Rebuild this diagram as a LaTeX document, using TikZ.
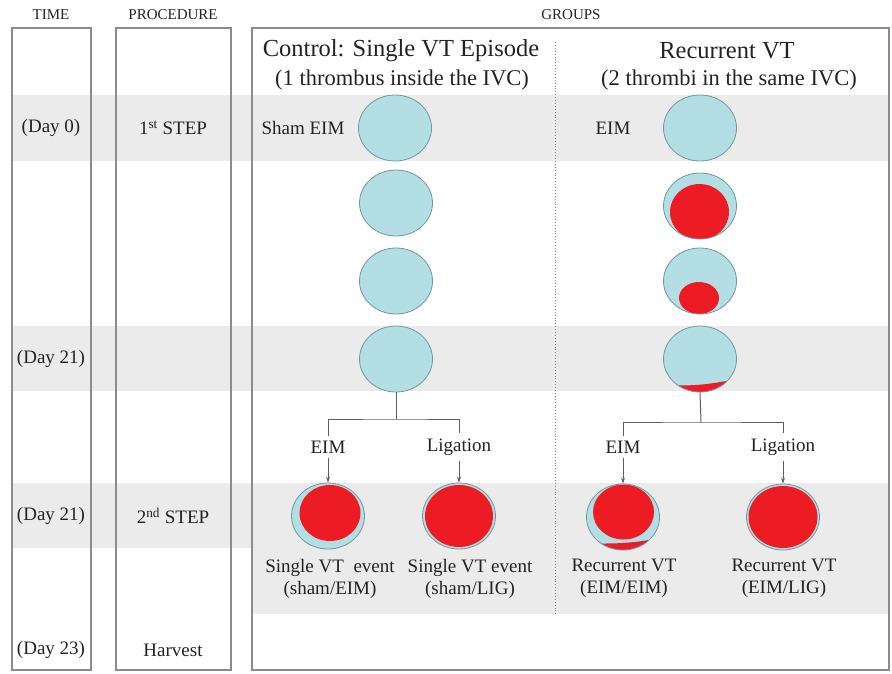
\documentclass[tikz,border=0pt]{standalone}
\usepackage{fontspec}
\setmainfont{Liberation Serif}
\usetikzlibrary{shapes.geometric,arrows.meta}
\definecolor{bandgrey}{RGB}{235,235,235}
\definecolor{boxline}{RGB}{140,140,140}
\definecolor{ivc}{RGB}{178,222,228}
\definecolor{ivcline}{RGB}{115,150,158}
\definecolor{clot}{RGB}{237,28,36}
\definecolor{txt}{RGB}{35,35,35}
\definecolor{connc}{RGB}{95,95,95}
\begin{document}
\begin{tikzpicture}[x=1pt,y=-1pt,
  hdr/.style={font=\fontsize{15}{17}\selectfont, text=txt, inner sep=1pt},
  lbl/.style={font=\fontsize{19}{22}\selectfont, text=txt, inner sep=1pt},
  captext/.style={lbl, align=center},
  branch/.style={lbl, inner sep=5pt},
  ttl/.style={font=\fontsize{24.5}{27}\selectfont, text=txt, inner sep=1pt},
  subttl/.style={font=\fontsize{22.5}{25}\selectfont, text=txt, inner sep=1pt},
  col/.style={draw=boxline, line width=1.4pt},
  vessel/.style={ellipse, draw=ivcline, fill=ivc, line width=0.8pt,
    minimum width=73pt, minimum height=66pt, inner sep=0pt},
  redin/.style n args={4}{path picture={\fill[clot]
    ([shift={(#1,#2)}]path picture bounding box.center)
    ellipse [x radius=#3pt, y radius=#4pt];}},
  conn/.style={draw=connc, line width=1pt},
  arr/.style={conn, -{Stealth[length=6pt,width=4pt]}},
]
\useasboundingbox (0,0) rectangle (892,673);
% bands
\fill[bandgrey] (12,95) rectangle (890,161);
\fill[bandgrey] (12,326) rectangle (890,391);
\fill[bandgrey] (12,483) rectangle (890,548);
\fill[bandgrey] (252,548) rectangle (890,614);
% columns
\draw[col] (12,28) rectangle (91,670);
\draw[col] (116,28) rectangle (231,670);
\draw[col] (252,28) rectangle (889,670);
% separator
\draw[dotted, draw=gray, line width=0.9pt] (555,42) -- (555,616);
% headers
\node[hdr] (hTime) at (51,15) {TIME};
\node[hdr] (hProc) at (173,15) {PROCEDURE};
\node[hdr] (hGroups) at (571,15) {GROUPS};
\node[ttl] (tCtrl) at (401,51) {Control: Single VT Episode};
\node[subttl] (sCtrl) at (402,80) {(1 thrombus inside the IVC)};
\node[ttl] (tRec) at (727,51) {Recurrent VT};
\node[subttl] (sRec) at (729,80) {(2 thrombi in the same IVC)};
% time
\node[lbl] (t0) at (51,128) {(Day 0)};
\node[lbl] (t21a) at (51,359) {(Day 21)};
\node[lbl] (t21b) at (51,516) {(Day 21)};
\node[lbl] (t23) at (51,650) {(Day 23)};
% procedure
\node[lbl] (p1) at (173,128) {1\textsuperscript{st} STEP};
\node[lbl] (p2) at (173,516) {2\textsuperscript{nd} STEP};
\node[lbl] (p3) at (173,650) {Harvest};
% first step labels
\node[lbl] (sham) at (303,128) {Sham EIM};
\node[lbl] (eim0) at (613,128) {EIM};
% control column
\node[vessel] (a1) at (395,128) {};
\node[vessel] (a2) at (396,203) {};
\node[vessel] (a3) at (396,281) {};
\node[vessel] (a4) at (396,359) {};
% recurrent column
\node[vessel] (b1) at (700,128) {};
\node[vessel, redin={-0.5}{6}{29.5}{28}] (b2) at (700,206) {};
\node[vessel, redin={-1}{17}{20}{16}] (b3) at (700,281) {};
\node[vessel, path picture={\fill[clot]
   ([shift={(-40,27)}]path picture bounding box.center)
   -- ([shift={(-22,26.5)}]path picture bounding box.center)
   .. controls ([shift={(0,26.5)}]path picture bounding box.center)
   and ([shift={(12,24.5)}]path picture bounding box.center)
   .. ([shift={(23,22.5)}]path picture bounding box.center)
   -- ([shift={(40,20)}]path picture bounding box.center)
   -- ([shift={(40,40)}]path picture bounding box.center)
   -- ([shift={(-40,40)}]path picture bounding box.center) -- cycle;}]
   (b4) at (700,359) {};
% branches control
\coordinate (aj) at (396,419);
\draw[conn] (a4.south) -- (aj);
\node[branch] (ae) at (328,447) {EIM};
\node[branch] (al) at (459,447) {Ligation};
\draw[conn] (ae.north) |- (aj) -| (al.north);
\node[vessel, redin={2}{-3}{30.5}{28}] (c1) at (328,516) {};
\node[vessel, redin={0}{0}{34}{31}] (c2) at (459,516) {};
\draw[arr] (ae.south) -- (c1.north);
\draw[arr] (al.south) -- (c2.north);
% branches recurrent
\coordinate (bj) at (701,422);
\draw[conn] (b4.south) -- (bj);
\node[branch] (be) at (623,447) {EIM};
\node[branch] (bl) at (783,447) {Ligation};
\draw[conn] (be.north) |- (bj) -| (bl.north);
\node[vessel, path picture={
   \fill[clot] ([shift={(0.5,-5)}]path picture bounding box.center)
      ellipse [x radius=30.5pt, y radius=27.5pt];
   \fill[clot]
   ([shift={(-40,27)}]path picture bounding box.center)
   -- ([shift={(-18,26.5)}]path picture bounding box.center)
   .. controls ([shift={(0,26.5)}]path picture bounding box.center)
   and ([shift={(14,25)}]path picture bounding box.center)
   .. ([shift={(26,23)}]path picture bounding box.center)
   -- ([shift={(40,20)}]path picture bounding box.center)
   -- ([shift={(40,40)}]path picture bounding box.center)
   -- ([shift={(-40,40)}]path picture bounding box.center) -- cycle;}]
   (d1) at (623,517) {};
\node[vessel, redin={0}{0}{34.5}{31}] (d2) at (783,517) {};
\draw[arr] (be.south) -- (d1.north);
\draw[arr] (bl.south) -- (d2.north);
% captions
\node[captext] (c1t) at (330,579) {Single VT\ \ event\\(sham/EIM)};
\node[captext] (c2t) at (470,579) {Single VT event\\(sham/LIG)};
\node[captext] (d1t) at (624,578) {Recurrent VT\\(EIM/EIM)};
\node[captext] (d2t) at (784,578) {Recurrent VT\\(EIM/LIG)};
\end{tikzpicture}
\end{document}
